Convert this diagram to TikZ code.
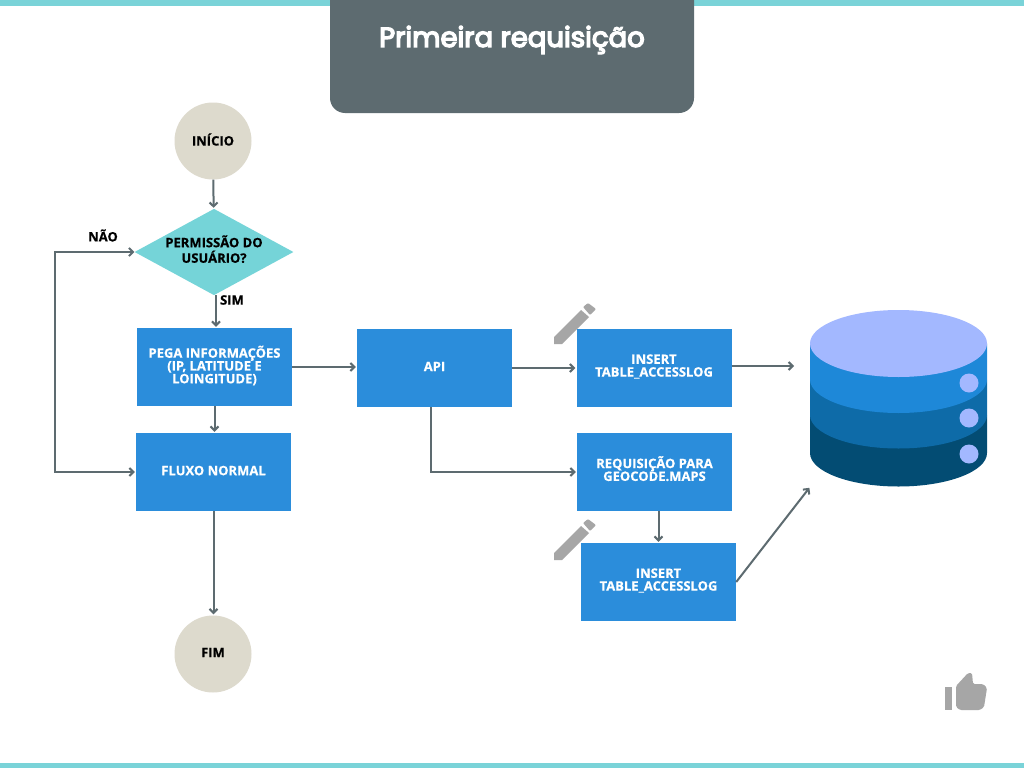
\documentclass[tikz,border=0pt]{standalone}
\usepackage{fontspec}
\setmainfont{Open Sans}[BoldFeatures={FakeBold=0.5}]
\newfontfamily\titlefont{Poppins}[FakeBold=5]
\usetikzlibrary{arrows.meta, shapes.geometric}
\definecolor{band}{RGB}{122,211,216}
\definecolor{slate}{RGB}{93,107,112}
\definecolor{boxblue}{RGB}{43,141,219}
\definecolor{sand}{RGB}{221,218,205}
\definecolor{aqua}{RGB}{117,212,216}
\definecolor{periwinkle}{RGB}{163,184,255}
\definecolor{dbone}{RGB}{30,136,216}
\definecolor{dbtwo}{RGB}{14,107,168}
\definecolor{dbthree}{RGB}{3,76,115}
\definecolor{icongray}{RGB}{166,166,166}
\tikzset{
  flowbox/.style={fill=boxblue, text=white, minimum width=155, minimum height=78, inner sep=0pt, text depth=3pt, align=center, font=\bfseries\fontsize{13}{12.8}\selectfont},
  terminal/.style={circle, fill=sand, minimum size=77, inner sep=0pt, text depth=3pt, font=\bfseries\fontsize{13}{13}\selectfont},
  decision/.style={diamond, aspect=1.84, fill=aqua, minimum width=158, minimum height=86, inner sep=0pt, text depth=6pt, align=center, font=\bfseries\fontsize{13}{15.5}\selectfont},
  tag/.style={inner sep=0pt, font=\bfseries\fontsize{13}{13}\selectfont},
  link/.style={->, >={Straight Barb[length=4pt,width=8pt]}, slate, line width=2pt, shorten >=1pt}
}
\begin{document}
\begin{tikzpicture}[x=1pt, y=-1pt]
  \useasboundingbox (0,0) rectangle (1024,768);
  \fill[white] (0,0) rectangle (1024,768);

  % Bands and title
  \fill[band] (0,0) rectangle (1024,6);
  \fill[band] (0,763) rectangle (1024,768);
  \fill[slate, rounded corners=15] (330,-30) rectangle (694,113);
  \node[text=white, inner sep=0pt, font=\titlefont\fontsize{27.5}{30}\selectfont] (title) at (512,40) {Primeira requisição};

  % Pencils
  \foreach \dy in {0,216} {
    \fill[icongray] (554,337+\dy) -- (581,310+\dy) -- (589,317+\dy) -- (562,344+\dy) -- (554,344+\dy) -- cycle;
    \fill[icongray, rounded corners=1] (583,307+\dy) -- (588,303+\dy) -- (596,309+\dy) -- (590,315+\dy) -- cycle;
  }

  % Flow nodes
  \node[terminal] (inicio) at (213,141) {INÍCIO};
  \node[decision] (permissao) at (214,252) {PERMISSÃO DO\\USUÁRIO?};
  \node[flowbox, text depth=5pt] (pega) at (214.5,367) {PEGA INFORMAÇÕES\\(IP, LATITUDE E\\LOINGITUDE)};
  \node[flowbox] (fluxo) at (213.5,472) {FLUXO NORMAL};
  \node[terminal] (fim) at (213,654) {FIM};
  \node[flowbox] (api) at (434.5,368) {API};
  \node[flowbox, text depth=5pt] (insertlog) at (654,368) {INSERT\\TABLE\_ACCESSLOG};
  \node[flowbox, text depth=7pt] (geocode) at (654.5,472) {REQUISIÇÃO PARA\\GEOCODE.MAPS};
  \node[flowbox, text depth=5pt] (insertgeo) at (658.5,582) {INSERT\\TABLE\_ACCESSLOG};

  % Labels
  \node[tag] (nao) at (103,235.5) {NÃO};
  \node[tag] (sim) at (232,300) {SIM};

  % Database
  \fill[dbthree] (810,415) -- (810,453) arc[start angle=180, end angle=360, x radius=88.5, y radius=-33.5] -- (987,415) -- cycle;
  \fill[dbtwo] (810,379.5) -- (810,415) arc[start angle=180, end angle=360, x radius=88.5, y radius=-33.5] -- (987,379.5) -- cycle;
  \fill[dbone] (810,343.5) -- (810,379.5) arc[start angle=180, end angle=360, x radius=88.5, y radius=-33.5] -- (987,343.5) -- cycle;
  \fill[periwinkle] (898.5,343.5) ellipse[x radius=88.5, y radius=33.5];
  \foreach \cy in {383,418,454}
    \fill[periwinkle] (969,\cy) circle (9.5);
  \coordinate (dbside) at (795,366);
  \coordinate (dbfoot) at (810,487);
  \coordinate (loopleft) at (55,361);

  % Connectors
  \draw[link] (inicio) -- (permissao);
  \draw[link] ([xshift=2pt]permissao.south) -- ([xshift=1.5pt]pega.north);
  \draw[link] (pega.south) -- (pega.south |- fluxo.north);
  \draw[link] (fluxo.south) -- (fluxo.south |- fim.north);
  \draw[link] (pega.east) -- (pega.east -| api.west);
  \draw[link] (api) -- (insertlog);
  \draw[link] ([yshift=2pt]insertlog.east) -- (dbside);
  \draw[link] ([xshift=-3.5pt]api.south) |- (geocode.west);
  \draw[link] (geocode.south -| insertgeo) -- (insertgeo.north);
  \draw[link] (insertgeo.east) -- (dbfoot);
  \draw[link, <->] (permissao.west) -| (loopleft) |- (fluxo.west);

  % Thumb
  \fill[icongray] (945,687) rectangle (952,710);
  \fill[icongray, rounded corners=1.5] (956,686) -- (968,673) -- (972,673) -- (973,684) -- (983,684) -- (987,688) -- (984,707) -- (980,710) -- (960,710) -- (956,707) -- cycle;
\end{tikzpicture}
\end{document}
